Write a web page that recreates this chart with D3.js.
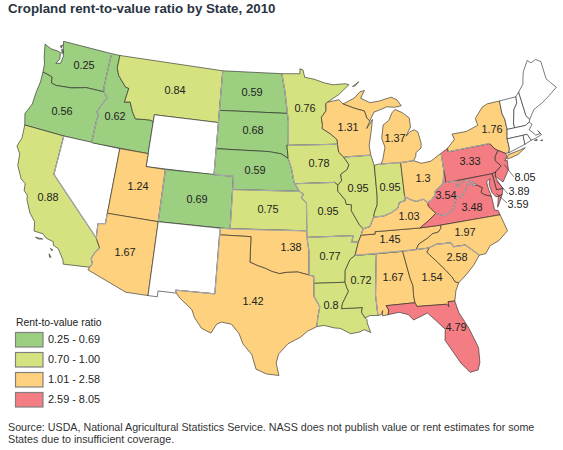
<!DOCTYPE html>
<html>
<head>
<meta charset="utf-8">
<script src="https://cdn.jsdelivr.net/npm/d3@7"></script>
<style>
  html, body { margin: 0; padding: 0; background: #fff; }
  text { font-family: "Liberation Sans", Arial, sans-serif; }
</style>
</head>
<body>
<div id="chart"></div>
<script>
const stateNames = ['WA','OR','CA','ID','MT','ND','SD','NE','KS','CO','UT','AZ','OK','TX','MN','IA','MO','AR','LA','MS','AL','TN','KY','IL','IN','OH','MI','WI','PA','NY','NJ','DE','MD','VA','WV','NC','SC','GA','FL'];
const rentRatios = [0.25,0.56,0.88,0.62,0.84,0.59,0.68,0.59,0.75,0.69,1.24,1.67,1.38,1.42,0.76,0.78,0.95,0.77,0.8,0.72,1.67,1.45,1.03,0.95,0.95,1.3,1.37,1.31,3.33,1.76,8.05,3.89,3.59,3.48,3.54,1.97,2.58,1.54,4.79];
const ratioLabels = ['0.25','0.56','0.88','0.62','0.84','0.59','0.68','0.59','0.75','0.69','1.24','1.67','1.38','1.42','0.76','0.78','0.95','0.77','0.8','0.72','1.67','1.45','1.03','0.95','0.95','1.3','1.37','1.31','3.33','1.76','8.05','3.89','3.59','3.48','3.54','1.97','2.58','1.54','4.79'];

const legendLabels = ['0.25 - 0.69','0.70 - 1.00','1.01 - 2.58','2.59 - 8.05'];
const binBreaks = [0.695,1.005,2.585];
const binColors = ['#9ccf80','#d5e27f','#fdd17d','#f37d82'];

// Outlines in lon/lat, rough hand tracing
const outlines = {
  WA: [[[-124.7,48.38],[-123.9,48.17],[-123.1,48.15],[-122.75,48.1],[-122.6,47.6],[-122.9,47.2],[-122.4,47.3],[-122.3,47.9],[-122.5,48.3],[-122.76,49],[-117.03,49],[-117.04,46.42],[-116.92,46],[-118.98,46],[-119.3,45.93],[-120.5,45.7],[-121.2,45.65],[-122.2,45.57],[-122.76,45.65],[-122.9,46.1],[-123.4,46.2],[-124,46.27],[-124.1,46.9],[-124.4,47.5]],
       [[-122.95,48.6],[-122.75,48.7],[-122.8,48.45]],[[-122.7,48.4],[-122.4,48.2],[-122.55,48.05]]],
  OR: [[[-124,46.27],[-123.4,46.2],[-122.9,46.1],[-122.76,45.65],[-122.2,45.57],[-121.2,45.65],[-120.5,45.7],[-119.3,45.93],[-118.98,46],[-116.92,46],[-116.46,45.6],[-116.85,45],[-117.2,44.4],[-116.93,44.1],[-117.03,43.8],[-117.03,42],[-120,42],[-124.21,42],[-124.55,42.84],[-124.1,43.7],[-124.07,44.7],[-123.95,45.5]]],
  CA: [[[-124.21,42],[-120,42],[-120,39],[-114.63,35],[-114.14,34.3],[-114.5,33.9],[-114.72,33.4],[-114.52,33.03],[-114.72,32.72],[-117.12,32.53],[-117.25,32.85],[-117.9,33.6],[-118.4,33.75],[-118.5,34.03],[-119.2,34.15],[-119.6,34.42],[-120.47,34.45],[-120.65,35.15],[-121.3,35.7],[-121.9,36.6],[-122,36.96],[-122.4,37.2],[-122.5,37.75],[-123,38],[-123.7,38.9],[-123.85,39.8],[-124.35,40.3],[-124.1,41]],
       [[-120.2,34.02],[-119.5,34.03],[-119.9,33.95]],[[-118.6,33.48],[-118.35,33.4],[-118.45,33.33]],[[-118.6,33.05],[-118.35,32.82],[-118.5,32.82]]],
  NV: [[[-120,42],[-114.04,42],[-114.04,36.2],[-114.74,36.1],[-114.63,35],[-120,39]]],
  ID: [[[-117.03,49],[-116.05,49],[-116.05,48],[-115.7,47.45],[-114.7,46.7],[-114.32,46.65],[-114.5,45.55],[-113.9,45.65],[-113.45,44.95],[-113,44.45],[-111.5,44.55],[-111.05,44.48],[-111.05,42],[-117.03,42],[-117.03,43.8],[-116.93,44.1],[-117.2,44.4],[-116.85,45],[-116.46,45.6],[-116.92,46],[-117.04,46.42]]],
  MT: [[[-116.05,49],[-104.05,49],[-104.05,45],[-111.05,45],[-111.05,44.48],[-111.5,44.55],[-113,44.45],[-113.45,44.95],[-113.9,45.65],[-114.5,45.55],[-114.32,46.65],[-114.7,46.7],[-115.7,47.45],[-116.05,48]]],
  WY: [[[-111.05,45],[-104.05,45],[-104.05,41],[-111.05,41]]],
  UT: [[[-114.04,42],[-111.05,42],[-111.05,41],[-109.05,41],[-109.05,37],[-114.04,37]]],
  CO: [[[-109.05,41],[-102.05,41],[-102.05,37],[-109.05,37]]],
  AZ: [[[-114.04,37],[-109.05,37],[-109.05,31.33],[-111.07,31.33],[-114.81,32.5],[-114.72,32.72],[-114.52,33.03],[-114.72,33.4],[-114.5,33.9],[-114.14,34.3],[-114.63,35],[-114.74,36.1],[-114.04,36.2]]],
  NM: [[[-109.05,37],[-103,37],[-103.06,32],[-106.62,32],[-106.53,31.78],[-108.21,31.78],[-108.21,31.33],[-109.05,31.33]]],
  ND: [[[-104.05,49],[-97.23,49],[-96.85,47.6],[-96.56,45.94],[-104.05,45.94]]],
  SD: [[[-104.05,45.94],[-96.56,45.94],[-96.45,45.3],[-96.45,43.5],[-96.6,43.5],[-96.45,42.5],[-97.2,42.85],[-98.5,43],[-104.05,43]]],
  NE: [[[-104.05,43],[-98.5,43],[-97.2,42.85],[-96.45,42.5],[-96.1,41.7],[-95.85,40.7],[-95.31,40],[-102.05,40],[-102.05,41],[-104.05,41]]],
  KS: [[[-102.05,40],[-95.31,40],[-94.9,39.8],[-95.1,39.5],[-94.61,39.1],[-94.62,37],[-102.05,37]]],
  OK: [[[-103,37],[-94.62,37],[-94.43,35.4],[-94.48,33.64],[-95.5,33.88],[-96.6,33.85],[-97.2,33.75],[-97.9,33.9],[-98.6,34.15],[-99.2,34.3],[-100,34.56],[-100,36.5],[-103,36.5]]],
  TX: [[[-103.04,36.5],[-100,36.5],[-100,34.56],[-99.2,34.3],[-98.6,34.15],[-97.9,33.9],[-97.2,33.75],[-96.6,33.85],[-95.5,33.88],[-94.48,33.64],[-94.04,33.55],[-94.04,32],[-93.55,31.2],[-93.75,30.4],[-93.85,29.7],[-94.7,29.35],[-95.3,28.9],[-96.4,28.4],[-97.2,27.6],[-97.4,26.9],[-97.15,25.95],[-98.2,26.05],[-99.1,26.4],[-99.5,27.5],[-100.3,28.3],[-100.7,29.1],[-101.4,29.77],[-102.3,29.88],[-102.7,29.7],[-103.15,28.98],[-104,29.3],[-104.7,30.05],[-105,30.65],[-106.2,31.45],[-106.53,31.78],[-106.62,32],[-103.06,32]]],
  MN: [[[-97.23,49],[-95.15,49],[-95.15,49.38],[-94.8,49.3],[-94.6,48.72],[-93.5,48.55],[-92.4,48.25],[-91.4,48.07],[-90,48.1],[-89.6,48],[-90.8,47.3],[-92.1,46.75],[-92.3,46.65],[-92.3,46.1],[-92.85,45.6],[-92.75,45],[-92.8,44.75],[-91.9,44.3],[-91.25,43.85],[-91.22,43.5],[-96.45,43.5],[-96.45,45.3],[-96.56,45.94],[-96.85,47.6]]],
  IA: [[[-96.6,43.5],[-91.22,43.5],[-91.15,42.9],[-90.65,42.5],[-90.15,41.9],[-90.35,41.55],[-91.05,41.2],[-91,40.7],[-91.4,40.4],[-91.73,40.61],[-95.77,40.58],[-95.85,40.7],[-96.1,41.7],[-96.45,42.5]]],
  MO: [[[-95.77,40.58],[-91.73,40.61],[-91.4,40.4],[-91.45,39.95],[-90.75,39.25],[-90.65,38.9],[-90.15,38.85],[-90.2,38.4],[-89.5,37.3],[-89.15,36.98],[-89.4,36.5],[-89.7,36],[-90.37,36],[-90.15,36.5],[-94.62,36.5],[-94.62,37],[-94.61,39.1],[-95.1,39.5],[-94.9,39.8],[-95.31,40]]],
  AR: [[[-94.62,36.5],[-90.15,36.5],[-90.37,36],[-89.7,36],[-90.1,35],[-90.6,34.7],[-91.1,33.9],[-91.17,33],[-94.04,33],[-94.04,33.55],[-94.48,33.64],[-94.43,35.4]]],
  LA: [[[-94.04,33],[-91.17,33],[-91.05,32.6],[-90.9,32.3],[-91.5,31.4],[-91.6,31],[-89.73,31],[-89.85,30.65],[-89.55,30.2],[-89.4,30.05],[-89.4,29.8],[-89.15,29.05],[-89.7,29.3],[-90.1,29.15],[-90.9,29.05],[-91.8,29.5],[-92.3,29.55],[-93.2,29.77],[-93.85,29.7],[-93.75,30.4],[-93.55,31.2],[-94.04,32]]],
  MS: [[[-90.1,35],[-88.2,35],[-88.1,34.9],[-88.47,31.9],[-88.4,30.3],[-89.1,30.35],[-89.55,30.2],[-89.85,30.65],[-89.73,31],[-91.6,31],[-91.5,31.4],[-90.9,32.3],[-91.05,32.6],[-91.17,33],[-91.1,33.9],[-90.6,34.7]]],
  AL: [[[-88.2,35],[-85.6,35],[-85.18,32.87],[-85,32.3],[-85.05,31.55],[-85,31],[-87.6,31],[-87.4,30.65],[-87.5,30.3],[-88,30.25],[-87.95,30.65],[-88.1,30.35],[-88.4,30.3],[-88.47,31.9],[-88.1,34.9]]],
  TN: [[[-90.1,35],[-89.7,36],[-89.4,36.5],[-88.05,36.5],[-88.05,36.68],[-83.68,36.6],[-81.68,36.59],[-81.7,36.35],[-82,36.1],[-82.6,36.03],[-83.1,35.75],[-84,35.4],[-84.32,35],[-85.6,35],[-88.2,35]]],
  KY: [[[-89.4,36.5],[-89.15,36.98],[-88.5,37.1],[-88.05,37.8],[-87.1,37.8],[-86.3,38],[-85.6,38.3],[-85.4,38.7],[-84.8,38.8],[-84.8,39.1],[-84.2,38.8],[-83.7,38.63],[-83,38.73],[-82.6,38.42],[-82.6,38.15],[-81.97,37.54],[-82.7,37.1],[-83.68,36.6],[-88.05,36.68],[-88.05,36.5]]],
  IL: [[[-90.65,42.5],[-87.8,42.5],[-87.55,41.7],[-87.53,39.35],[-87.6,38.7],[-87.95,38.1],[-88.05,37.8],[-88.5,37.1],[-89.15,36.98],[-89.5,37.3],[-90.2,38.4],[-90.15,38.85],[-90.65,38.9],[-90.75,39.25],[-91.45,39.95],[-91.4,40.4],[-91,40.7],[-91.05,41.2],[-90.35,41.55],[-90.15,41.9]]],
  IN: [[[-87.53,41.7],[-87.2,41.75],[-86.82,41.76],[-84.8,41.76],[-84.8,39.1],[-84.8,38.8],[-85.4,38.7],[-85.6,38.3],[-86.3,38],[-87.1,37.8],[-88.05,37.8],[-87.95,38.1],[-87.6,38.7],[-87.53,39.35]]],
  OH: [[[-84.8,41.7],[-83.45,41.73],[-82.7,41.45],[-81.7,41.5],[-80.52,41.98],[-80.52,40.64],[-80.8,39.7],[-81.7,39.2],[-81.75,38.95],[-82.2,38.6],[-82.6,38.42],[-83,38.73],[-83.7,38.63],[-84.2,38.8],[-84.8,39.1]]],
  MI: [[[-86.82,41.76],[-84.8,41.7],[-83.45,41.73],[-83.15,42.05],[-83.1,42.3],[-82.5,42.6],[-82.42,43],[-82.6,43.85],[-82.95,44.05],[-83.4,43.95],[-83.9,43.65],[-83.3,44.3],[-83.3,45],[-84,45.48],[-84.75,45.78],[-85.1,45.55],[-85.55,45],[-86.2,44.7],[-86.5,43.7],[-86.25,43],[-86.6,42.1]],
       [[-90.4,46.55],[-89.1,46.95],[-88.4,47.4],[-87.9,47.47],[-88.4,46.9],[-87.4,46.5],[-86.4,46.55],[-85,46.75],[-84.4,46.5],[-84,46],[-84.75,45.95],[-85.6,46.05],[-86.5,45.85],[-87.05,45.75],[-87.6,45.1],[-87.9,45.35],[-88.1,45.9],[-89.1,46.15]],
       [[-89.2,47.85],[-88.45,48.18],[-88.9,47.88]]],
  WI: [[[-92.1,46.75],[-90.8,46.9],[-90.4,46.55],[-89.1,46.15],[-88.1,45.9],[-87.9,45.35],[-87.6,45.1],[-88,44.55],[-87.3,45.2],[-87.55,44.3],[-87.9,43.2],[-87.8,42.5],[-90.65,42.5],[-91.15,42.9],[-91.22,43.5],[-91.25,43.85],[-91.9,44.3],[-92.8,44.75],[-92.75,45],[-92.85,45.6],[-92.3,46.1],[-92.3,46.65]]],
  PA: [[[-80.52,41.98],[-79.76,42.27],[-79.76,42],[-75.35,42],[-75.05,41.6],[-74.7,41.36],[-75.1,40.95],[-75.2,40.65],[-74.72,40.15],[-75.4,39.8],[-75.79,39.72],[-80.52,39.72],[-80.52,40.64]]],
  NY: [[[-79.76,42.27],[-78.9,42.85],[-79.05,43.27],[-77.5,43.27],[-76.2,43.55],[-76.3,44.1],[-75.3,44.85],[-74.7,45],[-73.35,45],[-73.4,44],[-73.25,43.55],[-73.27,42.75],[-73.5,42.05],[-73.5,41.3],[-73.65,41],[-74,41],[-74.7,41.36],[-75.05,41.6],[-75.35,42],[-79.76,42]],
       [[-74.02,40.6],[-73.75,40.87],[-72.6,40.98],[-71.9,41.07],[-72.8,40.7],[-73.9,40.55]]],
  NJ: [[[-74.7,41.36],[-74,41],[-73.95,40.75],[-74.25,40.48],[-74,40.45],[-74.1,39.75],[-74.9,38.93],[-75.55,39.5],[-75.4,39.8],[-74.72,40.15],[-75.2,40.65],[-75.1,40.95]]],
  DE: [[[-75.79,39.72],[-75.4,39.8],[-75.55,39.5],[-75.4,39.1],[-75.05,38.45],[-75.7,38.46]]],
  MD: [[[-79.48,39.72],[-75.79,39.72],[-75.7,38.46],[-75.05,38.45],[-75.25,38.03],[-75.65,37.95],[-75.9,37.95],[-76.2,38.35],[-76.3,39],[-76.1,39.4],[-76.5,39.2],[-76.45,38.6],[-76.32,38.05],[-77,38.3],[-77.25,38.5],[-77.05,38.85],[-77.5,39.1],[-77.75,39.33],[-78.4,39.62],[-78.8,39.6],[-79.48,39.2]]],
  VA: [[[-83.68,36.6],[-81.68,36.59],[-75.87,36.55],[-75.97,36.9],[-76.3,37],[-76.3,37.55],[-76.32,38.05],[-77,38.3],[-77.25,38.5],[-77.05,38.85],[-77.5,39.1],[-77.83,39.13],[-78.35,39.4],[-78.87,38.77],[-79.3,38.42],[-79.65,38.58],[-80.3,37.55],[-81.22,37.25],[-81.97,37.54],[-82.7,37.1]],
       [[-75.25,38.03],[-75.65,37.95],[-75.95,37.15],[-75.65,37.5]]],
  WV: [[[-80.52,40.64],[-80.52,39.72],[-79.48,39.72],[-79.48,39.2],[-78.8,39.6],[-78.4,39.62],[-77.75,39.33],[-77.83,39.13],[-78.35,39.4],[-78.87,38.77],[-79.3,38.42],[-79.65,38.58],[-80.3,37.55],[-81.22,37.25],[-81.97,37.54],[-82.6,38.15],[-82.6,38.42],[-82.2,38.6],[-81.75,38.95],[-81.7,39.2],[-80.8,39.7]]],
  NC: [[[-84.32,35],[-84,35.4],[-83.1,35.75],[-82.6,36.03],[-82,36.1],[-81.7,36.35],[-81.68,36.59],[-75.87,36.55],[-75.5,35.25],[-76.5,34.65],[-77.4,34.4],[-77.95,33.87],[-78.55,33.86],[-79.67,34.8],[-80.8,34.82],[-80.93,35.1],[-81.04,35.15],[-82.4,35.2],[-83.1,35]]],
  SC: [[[-83.1,35],[-82.4,35.2],[-81.04,35.15],[-80.93,35.1],[-80.8,34.82],[-79.67,34.8],[-78.55,33.86],[-79.2,33.2],[-80,32.6],[-80.85,32.05],[-81.15,32.15],[-81.4,32.6],[-81.9,33.2],[-82.6,33.95],[-83.35,34.7]]],
  GA: [[[-85.6,35],[-84.32,35],[-83.1,35],[-83.35,34.7],[-82.6,33.95],[-81.9,33.2],[-81.4,32.6],[-81.15,32.15],[-80.85,32.05],[-81.2,31.5],[-81.45,30.72],[-82.05,30.75],[-82.05,30.36],[-82.2,30.57],[-84.87,30.7],[-85,31],[-85.05,31.55],[-85,32.3],[-85.18,32.87]]],
  FL: [[[-87.6,31],[-85,31],[-84.87,30.7],[-82.2,30.57],[-82.05,30.36],[-82.05,30.75],[-81.45,30.72],[-81.25,29.8],[-80.6,28.5],[-80.05,26.9],[-80.15,25.75],[-80.4,25.2],[-81.1,25.12],[-81.75,25.95],[-82.15,26.7],[-82.8,27.85],[-82.65,28.7],[-83.4,29.5],[-84,30.1],[-85.3,29.7],[-85.7,30.15],[-86.5,30.4],[-87.5,30.3],[-87.4,30.65]]],
  VT: [[[-73.35,45],[-71.5,45],[-71.6,44.5],[-72.05,44.1],[-72.45,43.1],[-72.46,42.73],[-73.27,42.75],[-73.25,43.55],[-73.4,44]]],
  NH: [[[-71.5,45],[-71.08,45.3],[-70.98,43.4],[-70.7,43.07],[-70.82,42.87],[-71.3,42.7],[-72.46,42.73],[-72.45,43.1],[-72.05,44.1],[-71.6,44.5]]],
  ME: [[[-71.08,45.3],[-70.4,45.8],[-70.25,46.2],[-70,46.7],[-69.23,47.46],[-68.9,47.2],[-68.3,47.35],[-67.8,47.07],[-67.8,45.7],[-67.45,45.3],[-67,44.85],[-68,44.4],[-69,44],[-70,43.7],[-70.7,43.07],[-70.98,43.4]]],
  MA: [[[-73.5,42.05],[-73.27,42.75],[-72.46,42.73],[-71.3,42.7],[-70.82,42.87],[-70.6,42.65],[-71.05,42.3],[-70.65,41.95],[-70.55,41.78],[-70,41.8],[-70.2,42.07],[-69.95,41.7],[-70.65,41.55],[-71.12,41.5],[-71.38,42.02],[-71.8,42.02]],
       [[-70.8,41.42],[-70.5,41.47],[-70.55,41.35]],[[-70.2,41.3],[-69.97,41.3],[-70.05,41.23]]],
  CT: [[[-73.5,42.05],[-71.8,42.02],[-71.85,41.32],[-73.65,41],[-73.5,41.3]]],
  RI: [[[-71.8,42.02],[-71.38,42.02],[-71.12,41.5],[-71.85,41.32]]]
};

// State lines drawn heavier and grey on the original
const greyLines = [
  [[-117.03,49],[-117.04,46.42],[-116.92,46],[-116.46,45.6],[-116.85,45],[-117.2,44.4],[-116.93,44.1],[-117.03,43.8],[-117.03,42]],
  [[-120,42],[-120,39],[-114.63,35],[-114.74,36.1],[-114.04,36.2],[-114.04,37]],
  [[-114.14,34.3],[-114.5,33.9],[-114.72,33.4],[-114.52,33.03],[-114.72,32.72]],
  [[-104.05,49],[-104.05,41],[-102.05,41],[-102.05,40],[-95.31,40]],
  [[-102.05,40],[-102.05,37],[-103,37],[-103.06,32],[-106.62,32],[-106.53,31.78]],
  [[-103,37],[-103,36.5]],
  [[-109.05,41],[-109.05,37]],
  [[-96.45,43.5],[-91.22,43.5]],
  [[-96.56,45.94],[-96.85,47.6],[-97.23,49]],
  [[-96.45,43.5],[-96.45,45.3],[-96.56,45.94]],
  [[-96.45,42.5],[-96.1,41.7],[-95.85,40.7],[-95.31,40],[-94.9,39.8],[-95.1,39.5],[-94.61,39.1],[-94.62,36.5],[-90.15,36.5],[-90.37,36],[-89.7,36]],
  [[-95.77,40.58],[-91.73,40.61]],
  [[-94.62,37],[-102.05,37]],
  [[-94.62,36.5],[-94.43,35.4],[-94.48,33.64],[-94.04,33.55],[-94.04,32],[-93.55,31.2],[-93.75,30.4],[-93.85,29.7]],
  [[-90.1,35],[-84.32,35],[-83.1,35],[-82.4,35.2],[-81.04,35.15],[-80.93,35.1],[-80.8,34.82],[-79.67,34.8],[-78.55,33.86]],
  [[-88.2,35],[-88.1,34.9],[-88.47,31.9],[-88.4,30.3]],
  [[-89.4,36.5],[-89.15,36.98],[-88.5,37.1],[-88.05,37.8],[-87.1,37.8],[-86.3,38],[-85.6,38.3],[-85.4,38.7],[-84.8,38.8],[-84.8,39.1],[-84.2,38.8],[-83.7,38.63],[-83,38.73],[-82.6,38.42],[-82.2,38.6],[-81.75,38.95],[-81.7,39.2],[-80.8,39.7],[-80.52,40.64],[-80.52,41.98]],
  [[-90.65,42.5],[-87.8,42.5]],
  [[-87.2,41.75],[-84.8,41.7],[-83.45,41.73]],
  [[-79.76,42],[-75.35,42]],
  [[-80.52,39.72],[-79.48,39.72],[-79.48,39.2],[-78.8,39.6],[-78.4,39.62],[-77.75,39.33],[-77.83,39.13],[-78.35,39.4],[-78.87,38.77],[-79.3,38.42],[-79.65,38.58],[-80.3,37.55],[-81.22,37.25],[-81.97,37.54]]
];

// Label anchors, screen px
const labelPlaces = {WA:[84,65],OR:[62,111],CA:[48,197],ID:[115,116],MT:[175,90],ND:[252,92],SD:[253,130],NE:[255,170],KS:[268,209],CO:[197,199],UT:[138,186],AZ:[125,252],OK:[291,247],TX:[253,301],MN:[305,108],IA:[319,163],MO:[328,211],AR:[330,256],LA:[331,305],MS:[361,280],AL:[393,277],TN:[390,239],KY:[409,216],IL:[358,188],IN:[390,187],OH:[423,178],MI:[395,138],WI:[348,127],PA:[470,161],NY:[492,129],NJ:[525,177],DE:[519,191],MD:[518,204],VA:[472,207],WV:[446,195],NC:[465,232],SC:[457,257],GA:[432,277],FL:[456,327]};

// Leader lines for the small eastern states: start [lon, lat], end px
const leaderStarts = {NJ:[-74.4,40.2],DE:[-75.5,39.1],MD:[-75.8,38.2]};
const leaderEnds = {NJ:[514,177],DE:[508,194],MD:[507,203]};

const width = 563, height = 450;
const projection = d3.geoAlbers().scale(748).translate([286.5, 208.5]);
const color = d3.scaleThreshold().domain(binBreaks).range(binColors);
const ratioByState = new Map(stateNames.map((s, i) => [s, rentRatios[i]]));
const labelByState = new Map(stateNames.map((s, i) => [s, ratioLabels[i]]));
const line = d3.line();
const closed = ring => line(ring.map(projection)) + 'Z';

const svg = d3.select('#chart').append('svg')
  .attr('width', width).attr('height', height);

svg.append('text')
  .attr('x', 8).attr('y', 13)
  .attr('font-size', 13.3).attr('font-weight', 'bold').attr('fill', '#2a3442')
  .text('Cropland rent-to-value ratio by State, 2010');

const map = svg.append('g');
map.selectAll('path.state')
  .data(Object.keys(outlines))
  .join('path')
  .attr('class', 'state')
  .attr('d', s => outlines[s].map(closed).join(''))
  .attr('fill', s => ratioByState.has(s) ? color(ratioByState.get(s)) : '#fff')
  .attr('stroke', '#222')
  .attr('stroke-width', 0.6)
  .attr('stroke-linejoin', 'round');

map.selectAll('path.grey')
  .data(greyLines)
  .join('path')
  .attr('class', 'grey')
  .attr('d', d => line(d.map(projection)))
  .attr('fill', 'none')
  .attr('stroke', '#a9a9a9')
  .attr('stroke-width', 1.2);

map.selectAll('line.leader')
  .data(Object.keys(leaderStarts))
  .join('line')
  .attr('class', 'leader')
  .attr('x1', s => projection(leaderStarts[s])[0])
  .attr('y1', s => projection(leaderStarts[s])[1])
  .attr('x2', s => leaderEnds[s][0])
  .attr('y2', s => leaderEnds[s][1])
  .attr('stroke', '#333')
  .attr('stroke-width', 0.6);

map.selectAll('text.value')
  .data(stateNames)
  .join('text')
  .attr('class', 'value')
  .attr('x', s => labelPlaces[s][0])
  .attr('y', s => labelPlaces[s][1])
  .attr('dy', '0.35em')
  .attr('text-anchor', 'middle')
  .attr('font-size', 10.9)
  .attr('fill', '#222')
  .text(s => labelByState.get(s));

// Legend
const legend = svg.append('g');
legend.append('text')
  .attr('x', 16).attr('y', 326)
  .attr('font-size', 10.4).attr('fill', '#222')
  .text('Rent-to-value ratio');

const legendY = d3.scaleBand().domain(legendLabels).range([332, 408]).paddingInner(0.2);
legend.selectAll('rect')
  .data(legendLabels)
  .join('rect')
  .attr('x', 15.5).attr('width', 27.5)
  .attr('y', d => legendY(d) + 0.5)
  .attr('height', 14.5)
  .attr('fill', (d, i) => binColors[i])
  .attr('stroke', '#808080').attr('stroke-width', 1.2);
legend.selectAll('text.entry')
  .data(legendLabels)
  .join('text')
  .attr('class', 'entry')
  .attr('x', 48)
  .attr('y', d => legendY(d) + 7.5)
  .attr('dy', '0.35em')
  .attr('font-size', 10.9).attr('fill', '#222')
  .text(d => d);

// Source note
svg.append('text').attr('x', 8).attr('y', 431)
  .attr('font-size', 10.7).attr('fill', '#333')
  .text('Source: USDA, National Agricultural Statistics Service. NASS does not publish value or rent estimates for some');
svg.append('text').attr('x', 8).attr('y', 443)
  .attr('font-size', 10.7).attr('fill', '#333')
  .text('States due to insufficient coverage.');
</script>
</body>
</html>
